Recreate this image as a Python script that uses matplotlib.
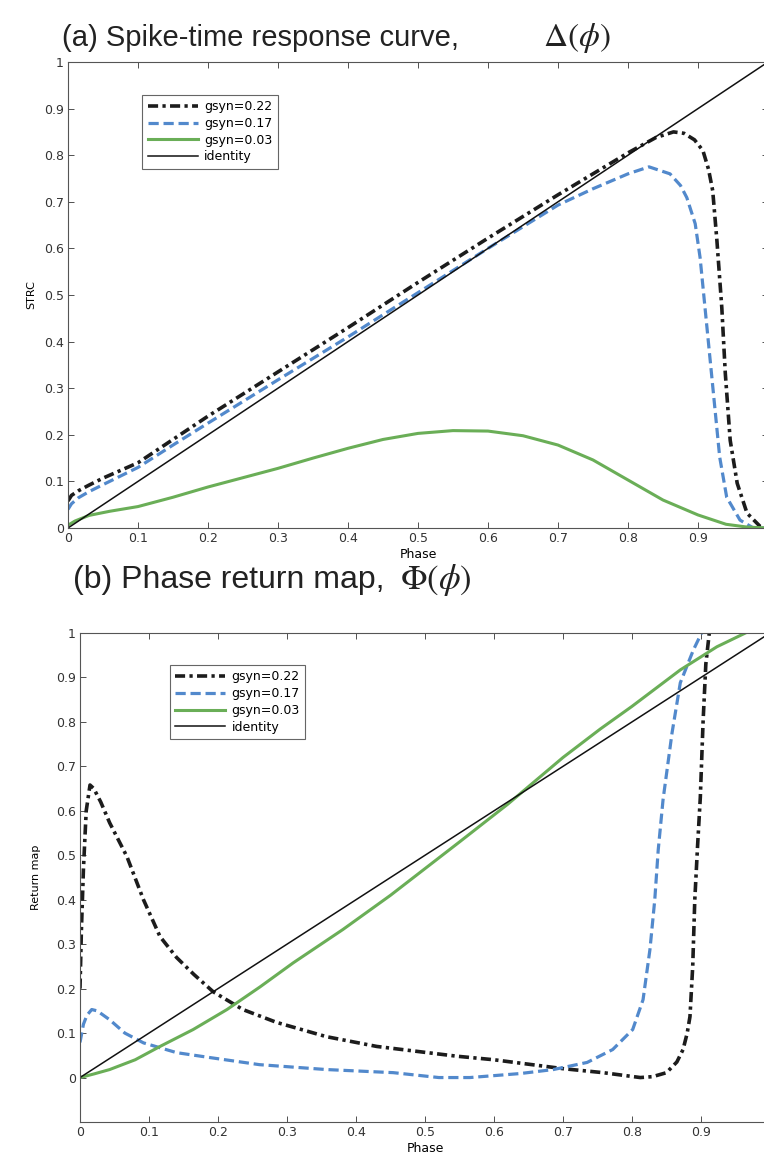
import matplotlib.pyplot as plt
import numpy as np

# (a) spike-time response curve, one series per synaptic conductance
phase_a_22 = [0, 0.005, 0.015, 0.03, 0.05, 0.1, 0.15, 0.2, 0.3, 0.4, 0.5, 0.6, 0.7,
              0.8, 0.84, 0.865, 0.88, 0.895, 0.907, 0.915, 0.921, 0.927, 0.934, 0.939,
              0.946, 0.956, 0.97, 0.989, 1.0]
strc_22 = [0.058, 0.07, 0.08, 0.092, 0.107, 0.14, 0.19, 0.24, 0.335, 0.43, 0.527, 0.622,
           0.715, 0.805, 0.838, 0.85, 0.847, 0.833, 0.81, 0.77, 0.724, 0.617, 0.473, 0.332,
           0.188, 0.096, 0.032, 0.003, 0.0]

phase_a_17 = [0, 0.005, 0.015, 0.03, 0.05, 0.1, 0.15, 0.2, 0.3, 0.4, 0.5, 0.6, 0.7, 0.75,
              0.8, 0.83, 0.86, 0.875, 0.884, 0.896, 0.903, 0.91, 0.917, 0.924, 0.931,
              0.941, 0.96, 0.979, 1.0]
strc_17 = [0.04, 0.052, 0.065, 0.078, 0.093, 0.13, 0.178, 0.225, 0.318, 0.41, 0.505, 0.6,
           0.693, 0.728, 0.76, 0.775, 0.76, 0.735, 0.709, 0.653, 0.58, 0.473, 0.366, 0.259,
           0.152, 0.066, 0.017, 0.0, 0.0]

phase_a_03 = [0, 0.01, 0.03, 0.06, 0.1, 0.15, 0.2, 0.25, 0.3, 0.35, 0.4, 0.45, 0.5, 0.55,
              0.6, 0.65, 0.7, 0.75, 0.8, 0.85, 0.9, 0.94, 0.97, 1.0]
strc_03 = [0.006, 0.015, 0.027, 0.036, 0.046, 0.066, 0.088, 0.108, 0.128, 0.15, 0.171,
           0.19, 0.203, 0.209, 0.208, 0.198, 0.178, 0.146, 0.103, 0.06, 0.028, 0.008,
           0.002, 0.0]

# (b) phase return map
phase_b_22 = [0, 0.002, 0.005, 0.009, 0.0145, 0.02, 0.03, 0.043, 0.068, 0.092, 0.116,
              0.14, 0.165, 0.193, 0.236, 0.285, 0.357, 0.43, 0.493, 0.546, 0.6, 0.65,
              0.7, 0.758, 0.812, 0.83, 0.85, 0.865, 0.874, 0.88, 0.884, 0.888, 0.891,
              0.895, 0.899, 0.903, 0.907, 0.912, 0.92]
return_22 = [0.2, 0.33, 0.47, 0.6, 0.658, 0.65, 0.62, 0.573, 0.497, 0.4, 0.317, 0.27,
             0.232, 0.193, 0.153, 0.124, 0.092, 0.07, 0.058, 0.048, 0.04, 0.03, 0.02,
             0.011, 0.0, 0.002, 0.011, 0.035, 0.063, 0.1, 0.137, 0.25, 0.4, 0.52, 0.63,
             0.8, 0.93, 1.0, 1.05]

phase_b_17 = [0, 0.005, 0.01, 0.017, 0.025, 0.043, 0.065, 0.092, 0.14, 0.188, 0.26, 0.357,
              0.454, 0.52, 0.565, 0.638, 0.686, 0.735, 0.772, 0.801, 0.816, 0.826, 0.833,
              0.838, 0.845, 0.858, 0.87, 0.889, 0.903]
return_17 = [0.079, 0.12, 0.14, 0.153, 0.15, 0.13, 0.1, 0.078, 0.056, 0.045, 0.029, 0.018,
             0.011, 0.0, 0.0, 0.009, 0.018, 0.034, 0.063, 0.108, 0.175, 0.288, 0.4, 0.512,
             0.625, 0.775, 0.888, 0.962, 1.007]

phase_b_03 = [0, 0.02, 0.043, 0.08, 0.116, 0.164, 0.213, 0.261, 0.309, 0.381, 0.45, 0.5,
              0.55, 0.62, 0.7, 0.754, 0.8, 0.87, 0.923, 0.971, 1.0]
return_03 = [0.0, 0.008, 0.018, 0.04, 0.07, 0.108, 0.153, 0.204, 0.258, 0.333, 0.41, 0.47,
             0.53, 0.615, 0.72, 0.784, 0.835, 0.917, 0.969, 1.005, 1.03]

identity = [0.0, 1.0]
labels = ["gsyn=0.22", "gsyn=0.17", "gsyn=0.03", "identity"]
xticks = np.arange(0, 1.0, 0.1)
yticks = np.arange(0, 1.01, 0.1)

styles = [
    dict(color="#1c1c1c", lw=2.6, linestyle=(0, (2.8, 1.2, 0.9, 1.2))),
    dict(color="#5289cc", lw=2.3, linestyle=(0, (3.2, 1.5))),
    dict(color="#6aae57", lw=2.2, linestyle="-"),
    dict(color="#111111", lw=1.1, linestyle="-"),
]

plt.rcParams["font.family"] = ["DejaVu Sans"]
plt.rcParams["mathtext.fontset"] = "stix"

fig = plt.figure(figsize=(7.64, 11.55), dpi=100)
W, H = 764, 1155


def make_axes(left, right, top, bottom):
    return fig.add_axes([left / W, 1 - bottom / H, (right - left) / W, (bottom - top) / H])


def style_axes(ax, ylim, ylabel):
    ax.set_xlim(0, 1)
    ax.set_ylim(*ylim)
    ax.set_xticks(xticks)
    ax.set_xticklabels([f"{t:g}" for t in xticks])
    ax.set_yticks(yticks)
    ax.set_yticklabels([f"{t:g}" for t in yticks])
    ax.tick_params(direction="in", length=4, width=0.6, labelsize=9, top=True,
                   right=True, colors="#333333", pad=3)
    for s in ax.spines.values():
        s.set_linewidth(0.8)
        s.set_color("#555555")
    ax.set_xlabel("Phase", fontsize=9, labelpad=2)
    ax.set_ylabel(ylabel, fontsize=8)


def draw(ax, series, legend_anchor):
    for (x, y), st, lab in zip(series, styles, labels):
        ax.plot(x, y, label=lab, **st)
    leg = ax.legend(loc="upper left", bbox_to_anchor=legend_anchor, borderaxespad=0,
                    fontsize=9, handlelength=4.0, handletextpad=0.5, labelspacing=0.3,
                    borderpad=0.45, fancybox=False, framealpha=1)
    leg.get_frame().set_edgecolor("#666666")
    leg.get_frame().set_linewidth(0.8)


title_family = ["Liberation Sans"]

ax_a = make_axes(68, 768, 62, 528)
draw(ax_a, [(phase_a_22, strc_22), (phase_a_17, strc_17), (phase_a_03, strc_03),
            (identity, identity)], (0.106, 0.93))
style_axes(ax_a, (0, 1), "STRC")
ax_a.yaxis.set_label_coords(-0.046, 0.5)
fig.text(62 / W, 1 - 38 / H, "(a) Spike-time response curve,", fontsize=21,
         family=title_family, va="center", ha="left", color="#222222")
fig.text(543 / W, 1 - 38 / H, r"$\Delta(\phi)$", fontsize=24, va="center", ha="left",
         color="#222222")

ax_b = make_axes(80, 770, 633, 1122)
draw(ax_b, [(phase_b_22, return_22), (phase_b_17, return_17), (phase_b_03, return_03),
            (identity, identity)], (0.13, 0.935))
style_axes(ax_b, (-0.1, 1), "Return map")
ax_b.yaxis.set_label_coords(-0.057, 0.5)
fig.text(73 / W, 1 - 580 / H, "(b) Phase return map,", fontsize=23,
         family=title_family, va="center", ha="left", color="#222222")
fig.text(400 / W, 1 - 580 / H, r"$\Phi(\phi)$", fontsize=25, va="center", ha="left",
         color="#222222")

fig.savefig("out.png", dpi=100)
